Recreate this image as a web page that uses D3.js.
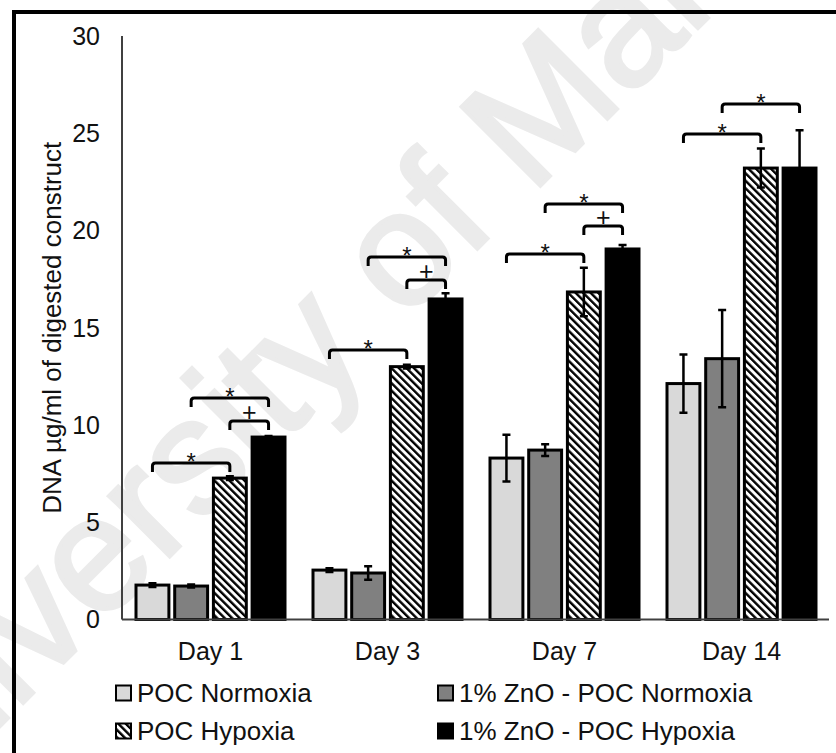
<!DOCTYPE html>
<html>
<head>
<meta charset="utf-8">
<script src="https://cdn.jsdelivr.net/npm/d3@7"></script>
<style>
  body { margin: 0; background: #fff; }
  text { font-family: "Liberation Sans", Arial, sans-serif; fill: #111; }
</style>
</head>
<body>
<svg width="836" height="753"></svg>
<script>
const days = ["Day 1", "Day 3", "Day 7", "Day 14"]
const series = ["POC Normoxia", "1% ZnO - POC Normoxia", "POC Hypoxia", "1% ZnO - POC Hypoxia"]

// mean DNA per series, one value per day
const pocNormoxia = [1.77, 2.54, 8.30, 12.13]
const znoNormoxia = [1.72, 2.39, 8.71, 13.41]
const pocHypoxia = [7.27, 13.0, 16.84, 23.21]
const znoHypoxia = [9.38, 16.48, 19.05, 23.21]

// error (+/-)
const errPocNormoxia = [0.1, 0.1, 1.2, 1.5]
const errZnoNormoxia = [0.08, 0.35, 0.3, 2.5]
const errPocHypoxia = [0.1, 0.1, 1.25, 1.0]
const errZnoHypoxia = [0.05, 0.3, 0.2, 1.95]

const yTicks = [0, 5, 10, 15, 20, 25, 30]

// significance brackets: day, from series index, to series index, height, mark
const brackets = [
  ["Day 1", 0, 2, 8.05, "*"], ["Day 1", 1, 3, 11.39, "*"], ["Day 1", 2, 3, 10.21, "+"],
  ["Day 3", 0, 2, 13.85, "*"], ["Day 3", 1, 3, 18.64, "*"], ["Day 3", 2, 3, 17.45, "+"],
  ["Day 7", 0, 2, 18.79, "*"], ["Day 7", 1, 3, 21.36, "*"], ["Day 7", 2, 3, 20.23, "+"],
  ["Day 14", 0, 2, 24.96, "*"], ["Day 14", 1, 3, 26.5, "*"]
]

const means = [pocNormoxia, znoNormoxia, pocHypoxia, znoHypoxia]
const errs = [errPocNormoxia, errZnoNormoxia, errPocHypoxia, errZnoHypoxia]
const fills = ["#d9d9d9", "#808080", "url(#hatch)", "#000"]

const svg = d3.select("svg")

const defs = svg.append("defs")
const hatch = defs.append("pattern")
    .attr("id", "hatch")
    .attr("patternUnits", "userSpaceOnUse")
    .attr("width", 5.3)
    .attr("height", 5.3)
    .attr("patternTransform", "rotate(-45)")
hatch.append("rect").attr("width", 5.3).attr("height", 5.3).attr("fill", "#fff")
hatch.append("rect").attr("width", 2.4).attr("height", 5.3).attr("fill", "#000")

// watermark
svg.append("text")
    .attr("transform", "translate(-131,857) rotate(-45)")
    .style("font-size", "162px")
    .style("fill", "#ebebeb")
    .style("stroke", "#ebebeb")
    .style("stroke-width", 4)
    .text("University of Malaya")

// frame
svg.append("rect")
    .attr("x", 14).attr("y", 12)
    .attr("width", 900).attr("height", 900)
    .attr("fill", "none")
    .attr("stroke", "#000")
    .attr("stroke-width", 4)

const x0 = d3.scaleBand().domain(days).range([122, 830])
const x1 = d3.scaleBand().domain(d3.range(4)).range([14, 163]).paddingInner(0.15)
const y = d3.scaleLinear().domain([0, 30]).range([619.5, 36])

// y axis
svg.append("line")
    .attr("x1", 122).attr("x2", 122)
    .attr("y1", y(30)).attr("y2", y(0))
    .attr("stroke", "#404040").attr("stroke-width", 2)

svg.selectAll(".ytick")
  .data(yTicks).enter()
  .append("text")
    .attr("x", 100)
    .attr("y", d => y(d))
    .attr("dy", "0.35em")
    .attr("text-anchor", "end")
    .style("font-size", "25px")
    .text(d => d)

svg.append("text")
    .attr("transform", `translate(61,${(y(0) + y(30)) / 2}) rotate(-90)`)
    .attr("text-anchor", "middle")
    .style("font-size", "26px")
    .text("DNA µg/ml of digested construct")

// bars
const groups = svg.selectAll(".day")
  .data(days).enter()
  .append("g")
    .attr("transform", d => `translate(${x0(d)},0)`)

means.forEach((vals, s) => {
  groups.append("rect")
      .attr("x", x1(s))
      .attr("width", x1.bandwidth())
      .attr("y", (d, i) => y(vals[i]))
      .attr("height", (d, i) => y(0) - y(vals[i]))
      .attr("fill", fills[s])
      .attr("stroke", "#000")
      .attr("stroke-width", 3)
})

// error bars
means.forEach((vals, s) => {
  const cx = x1(s) + x1.bandwidth() / 2
  groups.each(function(d, i) {
    const lo = y(vals[i] - errs[s][i]), hi = y(vals[i] + errs[s][i])
    d3.select(this).append("path")
        .attr("d", `M${cx},${lo}V${hi}M${cx - 4},${lo}H${cx + 4}M${cx - 4},${hi}H${cx + 4}`)
        .attr("stroke", "#000")
        .attr("stroke-width", 2.5)
        .attr("fill", "none")
  })
})

// brackets
brackets.forEach(([day, a, b, h, mark]) => {
  const xa = x0(day) + x1(a) + x1.bandwidth() / 2
  const xb = x0(day) + x1(b) + x1.bandwidth() / 2
  const yy = y(h)
  svg.append("path")
      .attr("d", `M${xa},${yy + 9}V${yy + 3}Q${xa},${yy} ${xa + 3},${yy}H${xb - 3}Q${xb},${yy} ${xb},${yy + 3}V${yy + 9}`)
      .attr("fill", "none")
      .attr("stroke", "#000")
      .attr("stroke-width", 3)
  svg.append("text")
      .attr("x", (xa + xb) / 2)
      .attr("y", mark === "*" ? yy + 7 : yy)
      .attr("text-anchor", "middle")
      .style("font-size", mark === "*" ? "24px" : "25px")
      .text(mark)
})

// x axis
svg.append("line")
    .attr("x1", 122).attr("x2", 829)
    .attr("y1", y(0)).attr("y2", y(0))
    .attr("stroke", "#404040").attr("stroke-width", 2)

svg.selectAll(".xlab")
  .data(days).enter()
  .append("text")
    .attr("x", d => x0(d) + x0.bandwidth() / 2)
    .attr("y", 651)
    .attr("dy", "0.35em")
    .attr("text-anchor", "middle")
    .style("font-size", "25px")
    .text(d => d)

// legend
const legendPos = [[116, 693], [438, 693], [116, 731], [438, 731]]
series.forEach((name, s) => {
  const [lx, ly] = legendPos[s]
  svg.append("rect")
      .attr("x", lx).attr("y", ly - 7.5)
      .attr("width", 15).attr("height", 15)
      .attr("fill", fills[s])
      .attr("stroke", "#000")
      .attr("stroke-width", 2)
  svg.append("text")
      .attr("x", lx + 21)
      .attr("y", ly)
      .attr("dy", "0.35em")
      .style("font-size", "26px")
      .text(name)
})
</script>
</body>
</html>
